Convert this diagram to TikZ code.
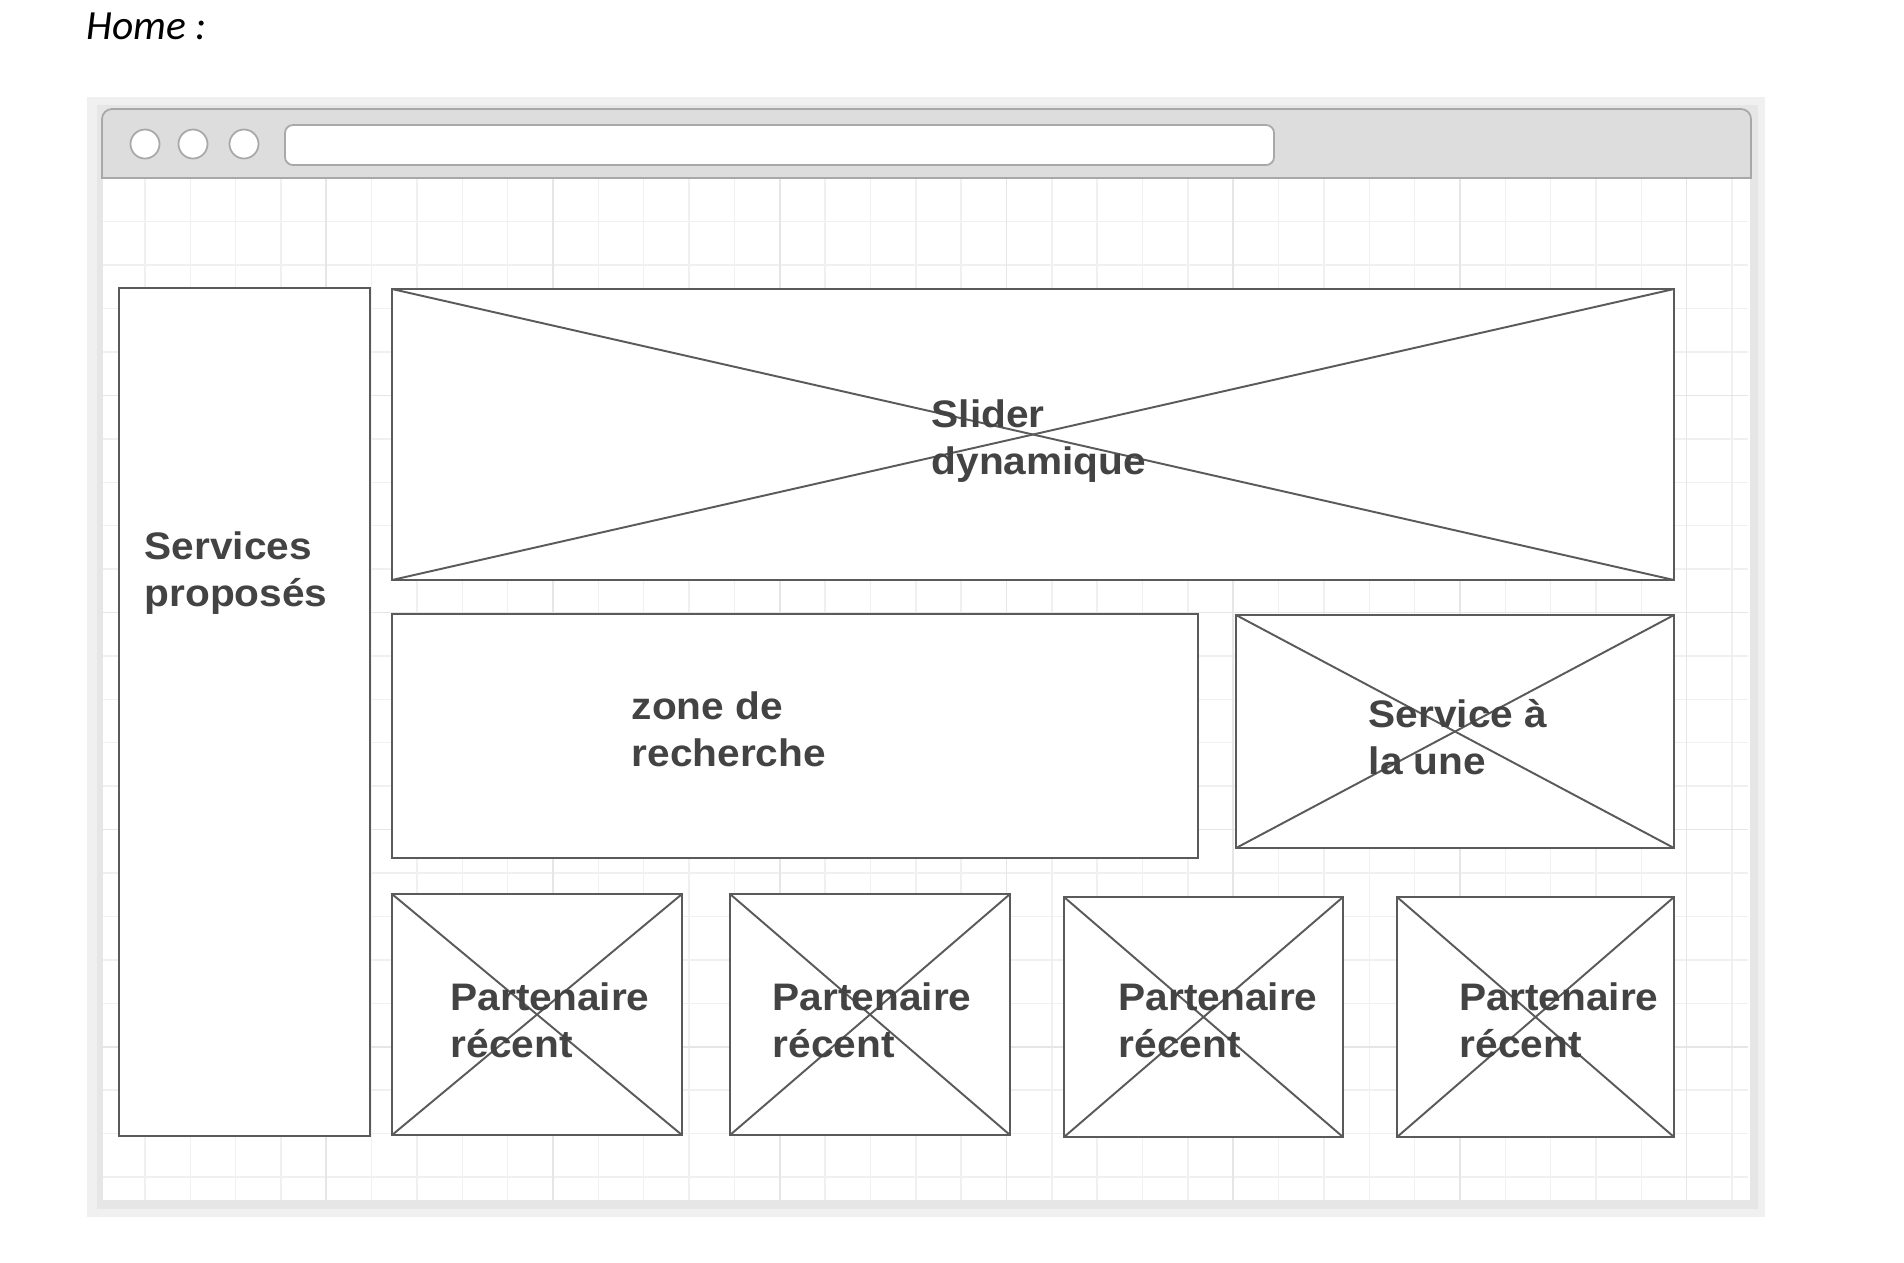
\documentclass[tikz,border=0pt]{standalone}
\usepackage{fontspec}
\setmainfont{Liberation Sans}
\newfontfamily\labelfont{Liberation Sans}[FakeStretch=1.06]
\newfontfamily\homefont{Carlito}
\usetikzlibrary{calc}

\definecolor{panelgray}{HTML}{F0F0F0}
\definecolor{shadowgray}{HTML}{E6E6E6}
\definecolor{barfill}{HTML}{DDDDDD}
\definecolor{barline}{HTML}{A8A8A8}
\definecolor{gridminor}{HTML}{F0F0F0}
\definecolor{gridmajor}{HTML}{E6E6E6}
\definecolor{framegray}{HTML}{5A5A5A}
\definecolor{labelgray}{HTML}{434343}

\tikzset{
    box/.style={draw=framegray, line width=0.6pt, fill=white},
    cross/.style={draw=framegray, line width=0.55pt},
    lbl/.style={anchor=base west, inner sep=0pt, align=left, text=labelgray,
        font=\labelfont\bfseries\fontsize{10.9pt}{13.2pt}\selectfont},
    gridline/.style={draw=gridminor, line width=0.4pt},
    gridbold/.style={draw=gridmajor, line width=0.5pt},
}

\begin{document}
\begin{tikzpicture}[x=0.01cm, y=-0.01cm]
        \useasboundingbox (0,0) rectangle (1904,1262);

        \node[anchor=base west, inner sep=0pt, font=\homefont\itshape\fontsize{11.8pt}{14pt}\selectfont] (home) at (86,39) {Home :};

        % browser frame
        \fill[panelgray] (87,97) rectangle (1765,1217);
        \fill[shadowgray] (97,105) rectangle (1758,1209);
        \fill[white] (102,178) rectangle (1751,1201);

        \foreach \k in {0,...,35} {
            \draw[gridline] ({145+45.34*\k},178) -- ({145+45.34*\k},1201);
        }
        \foreach \k in {0,...,22} {
            \draw[gridline] (102,{221.7+43.42*\k}) -- (1748,{221.7+43.42*\k});
        }
        \foreach \k in {4,9,...,34} {
            \draw[gridbold] ({145+45.34*\k},178) -- ({145+45.34*\k},1201);
        }
        \foreach \k in {4,9,...,19} {
            \draw[gridbold] (102,{221.7+43.42*\k}) -- (1748,{221.7+43.42*\k});
        }
        \draw[draw=shadowgray, line width=0.4pt] (102,178) rectangle (1751,1201);

        \begin{scope}
            \clip (0,0) rectangle (1904,178);
            \filldraw[fill=barfill, draw=barline, line width=0.5pt, rounded corners=0.1cm] (102,109) rectangle (1751,260);
        \end{scope}
        \draw[barline, line width=0.5pt] (102,178) -- (1751,178);

        \coordinate (dotA) at (145,144);
        \coordinate (dotB) at (193,144);
        \coordinate (dotC) at (244,144);
        \filldraw[fill=white, draw=barline, line width=0.5pt] (dotA) circle (14.5);
        \filldraw[fill=white, draw=barline, line width=0.5pt] (dotB) circle (14.5);
        \filldraw[fill=white, draw=barline, line width=0.5pt] (dotC) circle (14.5);
        \filldraw[fill=white, draw=barline, line width=0.5pt, rounded corners=0.08cm] (285,125) rectangle (1274,165);

        % page blocks
        \coordinate (servicesNW) at (119,288);
        \coordinate (servicesSE) at (370,1136);
        \coordinate (sliderNW) at (392,289);
        \coordinate (sliderSE) at (1674,580);
        \coordinate (zoneNW) at (392,614);
        \coordinate (zoneSE) at (1198,858);
        \coordinate (uneNW) at (1236,615);
        \coordinate (uneSE) at (1674,848);
        \coordinate (partAnw) at (392,894);
        \coordinate (partAse) at (682,1135);
        \coordinate (partBnw) at (730,894);
        \coordinate (partBse) at (1010,1135);
        \coordinate (partCnw) at (1064,897);
        \coordinate (partCse) at (1343,1137);
        \coordinate (partDnw) at (1397,897);
        \coordinate (partDse) at (1674,1137);

        \draw[box] (servicesNW) rectangle (servicesSE);
        \draw[box] (sliderNW) rectangle (sliderSE);
        \draw[box] (zoneNW) rectangle (zoneSE);
        \draw[box] (uneNW) rectangle (uneSE);
        \draw[box] (partAnw) rectangle (partAse);
        \draw[box] (partBnw) rectangle (partBse);
        \draw[box] (partCnw) rectangle (partCse);
        \draw[box] (partDnw) rectangle (partDse);

        \draw[cross] (sliderNW) -- (sliderSE);
        \draw[cross] (sliderNW |- sliderSE) -- (sliderSE |- sliderNW);
        \draw[cross] (uneNW) -- (uneSE);
        \draw[cross] (uneNW |- uneSE) -- (uneSE |- uneNW);
        \draw[cross] (partAnw) -- (partAse);
        \draw[cross] (partAnw |- partAse) -- (partAse |- partAnw);
        \draw[cross] (partBnw) -- (partBse);
        \draw[cross] (partBnw |- partBse) -- (partBse |- partBnw);
        \draw[cross] (partCnw) -- (partCse);
        \draw[cross] (partCnw |- partCse) -- (partCse |- partCnw);
        \draw[cross] (partDnw) -- (partDse);
        \draw[cross] (partDnw |- partDse) -- (partDse |- partDnw);

        % labels, placed by the baseline of their last line
        \node[lbl] (services) at (144,606) {Services\\proposés};
        \node[lbl] (slider) at (931,474) {Slider\\dynamique};
        \node[lbl] (zone) at (631,766) {zone de\\recherche};
        \node[lbl] (une) at (1368,774) {Service à\\la une};
        \node[lbl] (partA) at (450,1057) {Partenaire\\récent};
        \node[lbl] (partB) at (772,1057) {Partenaire\\récent};
        \node[lbl] (partC) at (1118,1057) {Partenaire\\récent};
        \node[lbl] (partD) at (1459,1057) {Partenaire\\récent};
\end{tikzpicture}
\end{document}
